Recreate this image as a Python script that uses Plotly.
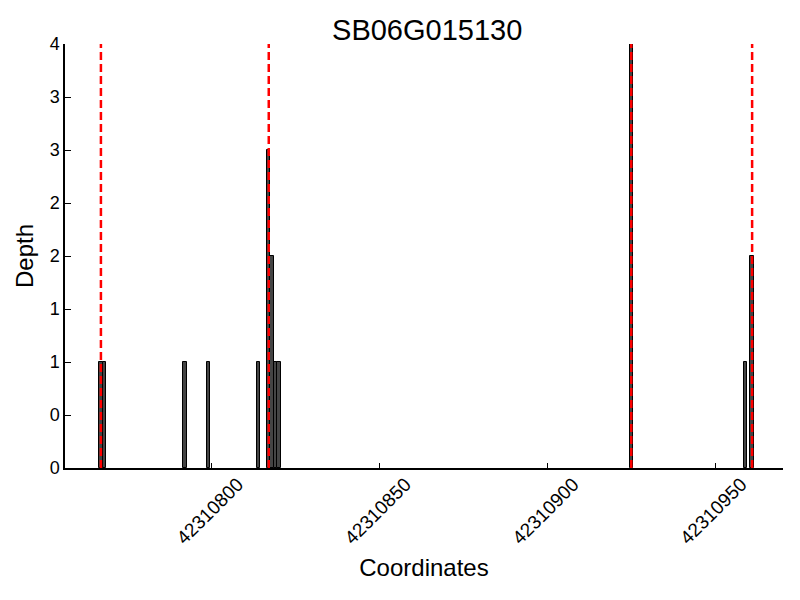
import plotly.graph_objects as go

# Data
positions = [42310767, 42310768, 42310792, 42310799, 42310814, 42310817,
             42310818, 42310819, 42310820, 42310925, 42310959, 42310961]
depths = [1, 1, 1, 1, 1, 3, 2, 1, 1, 4, 1, 2]
boundaries = [42310767, 42310817, 42310925, 42310961]
x_ticks = [42310800, 42310850, 42310900, 42310950]
x_tick_labels = ["42310800", "42310850", "42310900", "42310950"]
y_ticks = [0, 0.5, 1, 1.5, 2, 2.5, 3, 3.5, 4]
y_tick_labels = ["0", "0", "1", "1", "2", "2", "3", "3", "4"]
title_text = "SB06G015130"

FONT = "Liberation Sans, Arial, Helvetica, sans-serif"

fig = go.Figure()
fig.add_trace(go.Bar(
    x=positions, y=depths, width=1,
    marker=dict(color="#444444", line=dict(color="black", width=1)),
    showlegend=False,
))

for b in boundaries:
    fig.add_shape(type="line", xref="x", yref="y", x0=b, x1=b, y0=0, y1=4,
                  line=dict(color="red", width=2.5, dash="8px,4px"), layer="above")

fig.update_layout(
    width=800, height=600,
    margin=dict(l=57, r=25, t=36, b=140),
    plot_bgcolor="white", paper_bgcolor="white",
    font=dict(family=FONT, color="black", size=18),
    title=dict(text=title_text, x=0.524, xanchor="center", y=0.963, yanchor="middle",
               font=dict(size=29, family=FONT)),
    bargap=0,
)
fig.update_xaxes(
    range=[42310756.3, 42310970.2],
    tickvals=x_ticks, ticktext=x_tick_labels, tickangle=-45,
    ticklabelshift=26, ticklabelstandoff=-4,
    ticks="inside", ticklen=5, tickcolor="black",
    showline=True, linecolor="black", linewidth=1.5, mirror=False,
    showgrid=False, zeroline=False, automargin=False,
    tickfont=dict(size=19),
    title=dict(text="Coordinates", font=dict(size=24), standoff=12),
)
fig.update_yaxes(
    range=[0, 4],
    tickvals=y_ticks, ticktext=y_tick_labels,
    ticks="inside", ticklen=6, tickcolor="black",
    showline=True, linecolor="black", linewidth=1.5, mirror=False,
    showgrid=False, zeroline=False, automargin=False,
    tickfont=dict(size=18),
    title=dict(text="Depth", font=dict(size=24), standoff=9),
)

fig.write_html("out.html")
